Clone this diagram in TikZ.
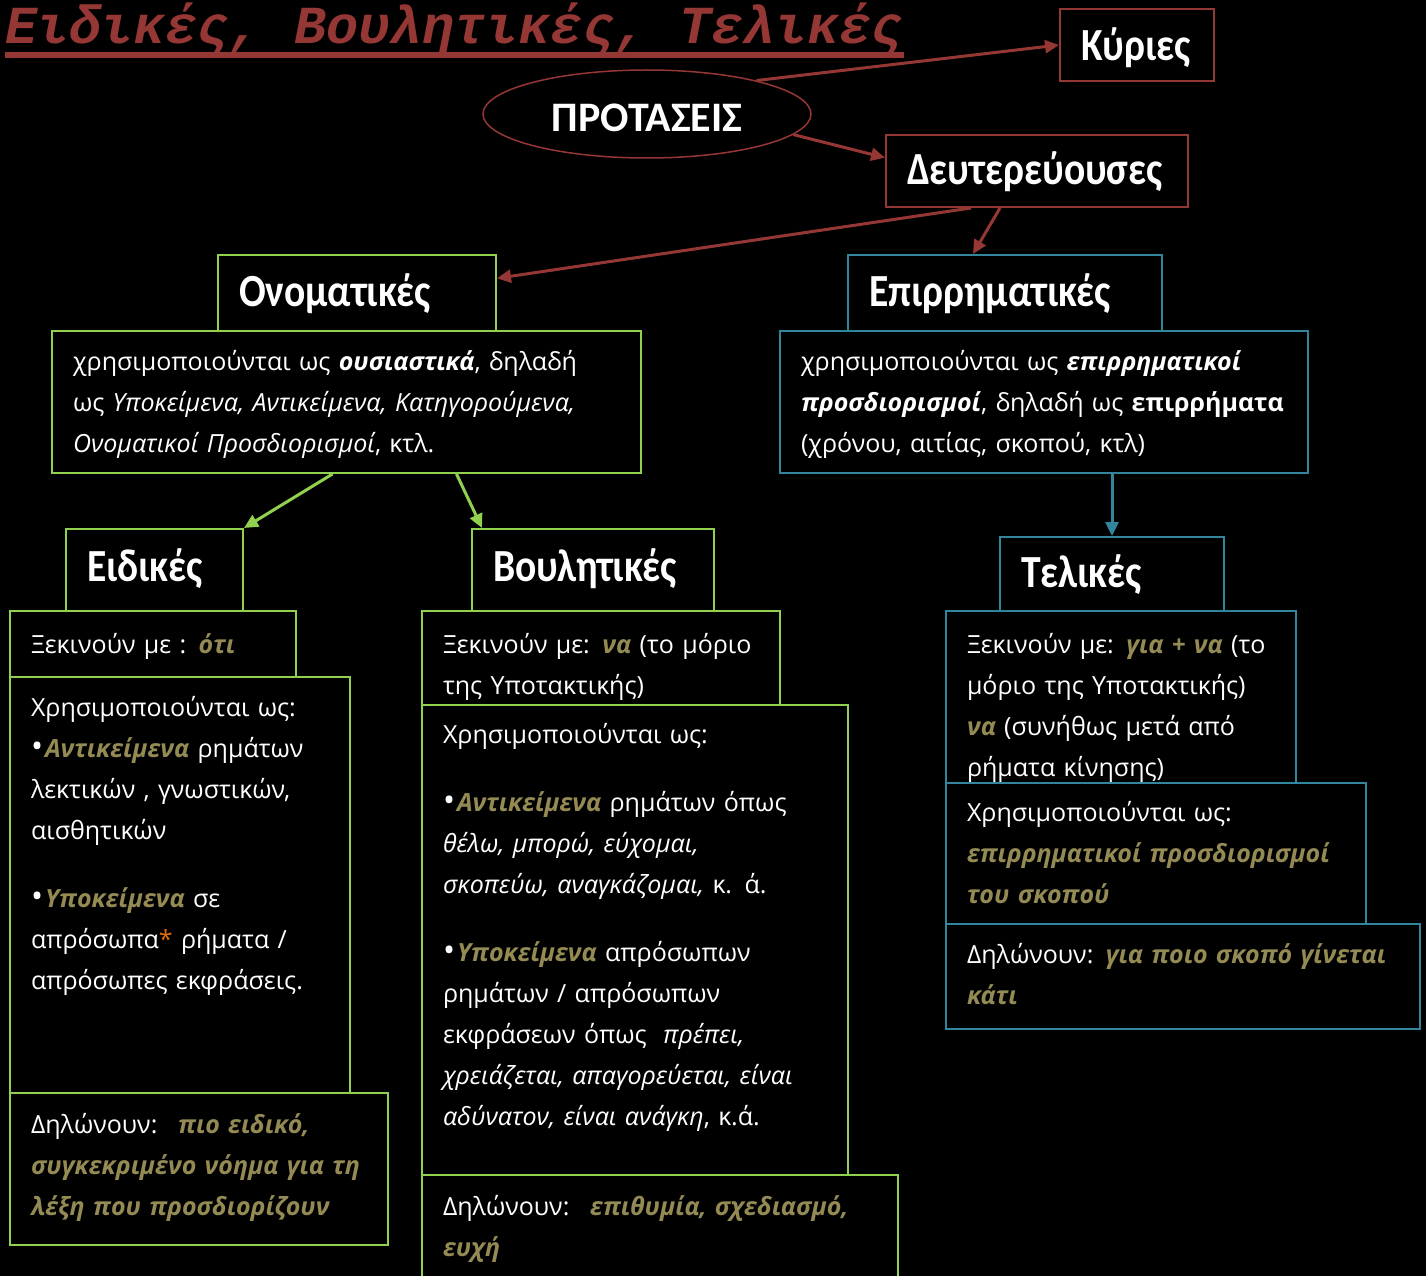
\documentclass[tikz,border=0pt]{standalone}
\usepackage{fontspec}
\setmainfont{Open Sans}
\newfontfamily\headfont[FakeStretch=0.86]{Carlito}
\newfontfamily\capfont{Carlito}
\newfontfamily\titlefont{Liberation Mono}
\usetikzlibrary{positioning,shapes.geometric,arrows.meta}

\definecolor{brick}{HTML}{953735}
\definecolor{leaf}{HTML}{92D050}
\definecolor{sea}{HTML}{31859C}
\definecolor{khaki}{HTML}{948A54}
\definecolor{amber}{HTML}{E46C0A}

\newcommand{\keyw}[1]{\textcolor{khaki}{\textbf{\textit{#1}}}}
\newcommand{\dotmark}{{\fontsize{32}{41}\selectfont•}\hspace{2pt}}

\begin{document}
\begin{tikzpicture}[x=1pt,y=-1pt,
	box/.style={draw=#1,fill=black,line width=2pt,anchor=north west,inner xsep=21pt,inner ysep=0pt,align=left,text=white},
	head/.style={font=\headfont\bfseries\fontsize{46}{50}\selectfont},
	body/.style={font=\fontsize{25}{41}\selectfont},
	arr/.style={draw=#1,line width=3pt,-{Triangle[length=14pt,width=13pt]}}]
	\fill[black] (0,0) rectangle (1426,1276);
	\useasboundingbox (0,0) rectangle (1426,1276);

	% title
	\node[anchor=base west,inner sep=0pt,text=brick,font=\titlefont\bfseries\itshape\fontsize{53.5}{60}\selectfont] (title) at (5,44) {Ειδικές, Βουλητικές, Τελικές};
	\draw[brick,line width=6pt] ([yshift=-11pt]title.base west) -- ([yshift=-11pt]title.base east);

	% top level
	\node[ellipse,draw=brick,line width=1.5pt,fill=black,minimum width=328pt,minimum height=88pt,inner sep=0pt,text=white,text height=36pt,text depth=0pt,font=\capfont\bfseries\fontsize{42}{44}\selectfont] (prot) at (647,114) {ΠΡΟΤΑΣΕΙΣ};
	\node[box=brick,head,text width=112pt,text height=52pt,text depth=20pt] (kyr) at (1059,8) {Κύριες};
	\node[box=brick,head,text width=260pt,text height=50pt,text depth=22pt] (deut) at (885,134) {Δευτερεύουσες};

	% second level
	\node[box=leaf,head,text width=236pt,text height=51pt,text depth=25pt] (onom) at (217,254) {Ονοματικές};
	\node[box=leaf,body,text width=547pt,text height=39pt,text depth=103pt] (onomd) at (51,330)
		{χρησιμοποιούνται ως \textbf{\textit{ουσιαστικά}}, δηλαδή\\
		ως \textit{Υποκείμενα, Αντικείμενα, Κατηγορούμενα,}\\
		\textit{Ονοματικοί Προσδιορισμοί}, κτλ.};
	\node[box=sea,head,text width=272pt,text height=51pt,text depth=25pt] (epir) at (847,254) {Επιρρηματικές};
	\node[box=sea,body,text width=486pt,text height=39pt,text depth=103pt] (epird) at (779,330)
		{χρησιμοποιούνται ως \textbf{\textit{επιρρηματικοί}}\\
		\textbf{\textit{προσδιορισμοί}}, δηλαδή~ως~\textbf{επιρρήματα}\\
		(χρόνου, αιτίας, σκοπού, κτλ)};

	% Ειδικές
	\node[box=leaf,head,text width=135pt,text height=52pt,text depth=30pt] (eid) at (65,528) {Ειδικές};
	\node[box=leaf,body,text width=244pt,text height=42pt,text depth=24pt] (eidx) at (9,610)
		{Ξεκινούν με : \keyw{ότι}};
	\node[box=leaf,body,text width=298pt,text height=39pt,text depth=377pt] (eidc) at (9,676)
		{Χρησιμοποιούνται ως:\\
		\dotmark\keyw{Αντικείμενα} ρημάτων\\
		λεκτικών , γνωστικών,\\
		αισθητικών\\[27pt]
		\dotmark\keyw{Υποκείμενα} σε\\
		απρόσωπα\textcolor{amber}{*} ρήματα /\\
		απρόσωπες εκφράσεις.};
	\node[box=leaf,body,text width=336pt,text height=40pt,text depth=112pt] (eidd) at (9,1092)
		{Δηλώνουν:~ \keyw{πιο ειδικό,}\\
		\keyw{συγκεκριμένο~νόημα~για~τη}\\
		\keyw{λέξη που προσδιορίζουν}};

	% Βουλητικές
	\node[box=leaf,head,text width=200pt,text height=52pt,text depth=30pt] (vou) at (471,528) {Βουλητικές};
	\node[box=leaf,body,text width=316pt,text height=42pt,text depth=52pt] (voux) at (421,610)
		{Ξεκινούν με: \keyw{να} (το μόριο\\
		της Υποτακτικής)};
	\node[box=leaf,body,text width=384pt,text height=38pt,text depth=432pt] (vouc) at (421,704)
		{Χρησιμοποιούνται ως:\\[27pt]
		\dotmark\keyw{Αντικείμενα} ρημάτων όπως\\
		\textit{θέλω, μπορώ, εύχομαι,}\\
		\textit{σκοπεύω, αναγκάζομαι,} κ. ά.\\[27pt]
		\dotmark\keyw{Υποκείμενα} απρόσωπων\\
		ρημάτων / απρόσωπων\\
		εκφράσεων όπως~ \textit{πρέπει,}\\
		\textit{χρειάζεται, απαγορεύεται, είναι}\\
		\textit{αδύνατον, είναι ανάγκη}, κ.ά.};
	\node[box=leaf,body,text width=434pt,text height=40pt,text depth=80pt] (voud) at (421,1174)
		{Δηλώνουν:~ \keyw{επιθυμία, σχεδιασμό,}\\
		\keyw{ευχή}};

	% Τελικές
	\node[box=sea,head,text width=182pt,text height=50pt,text depth=24pt] (tel) at (999,536) {Τελικές};
	\node[box=sea,body,text width=308pt,text height=42pt,text depth=130pt] (telx) at (945,610)
		{Ξεκινούν με: \keyw{για~+~να}~(το\\
		μόριο της Υποτακτικής)\\
		\keyw{να} (συνήθως μετά από\\
		ρήματα κίνησης)};
	\node[box=sea,body,text width=378pt,text height=38pt,text depth=103pt] (telc) at (945,782)
		{Χρησιμοποιούνται ως:\\
		\keyw{επιρρηματικοί προσδιορισμοί}\\
		\keyw{του σκοπού}};
	\node[box=sea,body,text width=432pt,text height=39pt,text depth=66pt] (teld) at (945,923)
		{Δηλώνουν: \keyw{για ποιο σκοπό γίνεται}\\
		\keyw{κάτι}};

	% arrows
	\draw[arr=brick] (prot.17) -- (kyr.west);
	\draw[arr=brick] (prot.-8) -- (deut.175);
	\draw[arr=brick] ([xshift=-66pt]deut.south) -- (onom.6);
	\draw[arr=brick] ([xshift=-37pt]deut.south) -- ([xshift=-32pt]epir.north);
	\draw[arr=leaf] ([xshift=-14pt]onomd.south) -- (eid.north east);
	\draw[arr=leaf] ([xshift=110pt]onomd.south) -- ([xshift=11pt]vou.north west);
	\draw[arr=sea] (tel.north |- epird.south) -- (tel.north);
\end{tikzpicture}
\end{document}
